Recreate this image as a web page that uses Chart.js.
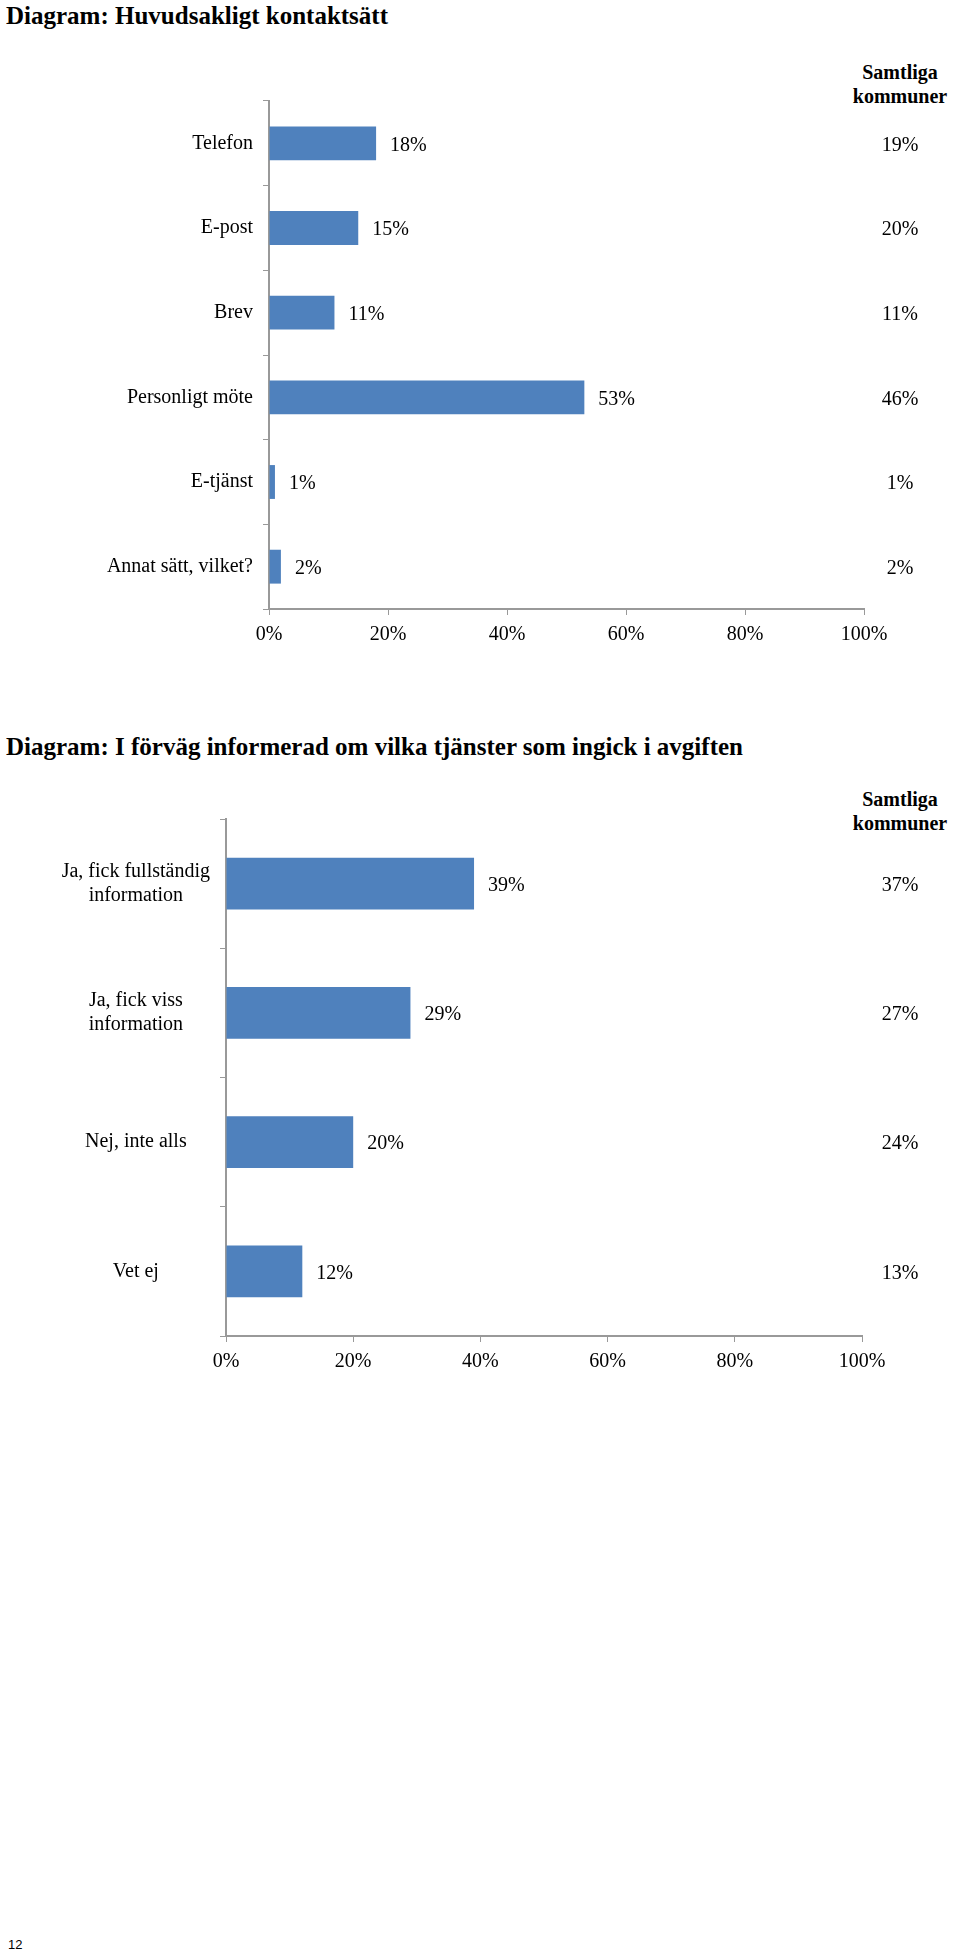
<!DOCTYPE html>
<html lang="sv">
<head>
<meta charset="UTF-8">
<title>Diagram</title>
<script src="https://cdn.jsdelivr.net/npm/chart.js"></script>
<style>
  body { margin:0; width:960px; height:1957px; position:relative; background:#fff; font-family:'Liberation Serif','DejaVu Serif',serif; color:#000; }
  h2 { position:absolute; left:6px; margin:0; font-size:25px; font-weight:bold; }
  .hdr { position:absolute; width:140px; text-align:center; font-weight:bold; font-size:20px; line-height:24px; }
  .wrap { position:absolute; left:0; width:960px; }
  .pg { position:absolute; left:8px; top:1937px; font-family:'Liberation Sans',sans-serif; font-size:13px; }
</style>
</head>
<body>
<h2 style="top:2px">Diagram: Huvudsakligt kontaktsätt</h2>
<div class="hdr" style="left:830px;top:60px">Samtliga<br>kommuner</div>
<div class="wrap" style="top:79px;height:576px"><canvas id="c1"></canvas></div>

<h2 style="top:733px">Diagram: I förväg informerad om vilka tjänster som ingick i avgiften</h2>
<div class="hdr" style="left:830px;top:787px">Samtliga<br>kommuner</div>
<div class="wrap" style="top:797px;height:585px"><canvas id="c2"></canvas></div>

<div class="pg">12</div>

<script>
// Diagram 1
const cats1 = ['Telefon', 'E-post', 'Brev', 'Personligt möte', 'E-tjänst', 'Annat sätt, vilket?'];
const vals1 = [18, 15, 11, 53, 1, 2];
const all1 = [19, 20, 11, 46, 1, 2];

// Diagram 2
const cats2 = [['Ja, fick fullständig', 'information'], ['Ja, fick viss', 'information'], 'Nej, inte alls', 'Vet ej'];
const vals2 = [39, 29, 20, 12];
const all2 = [37, 27, 24, 13];

const xTicks = [0, 20, 40, 60, 80, 100];

const font = { family: "'Liberation Serif', serif", size: 20 };

const labelPlugin = {
  id: 'vals',
  afterDatasetsDraw(chart, args, opts) {
    const ctx = chart.ctx;
    const meta = chart.getDatasetMeta(0);
    ctx.save();
    ctx.font = "20px 'Liberation Serif', serif";
    ctx.fillStyle = '#000';
    ctx.textBaseline = 'middle';
    meta.data.forEach((bar, i) => {
      ctx.textAlign = 'left';
      ctx.fillText(chart.data.datasets[0].data[i] + '%', bar.x + 14, bar.y + 2);
      ctx.textAlign = 'center';
      ctx.fillText(opts.all[i] + '%', 900, bar.y + 2);
    });
    ctx.restore();
  }
};

function makeChart(id, cats, vals, all, axisW, padRight, align) {
  return new Chart(document.getElementById(id), {
    type: 'bar',
    data: { labels: cats, datasets: [{ data: vals, backgroundColor: '#4f81bd', categoryPercentage: 0.8, barPercentage: 0.5 }] },
    options: {
      indexAxis: 'y',
      responsive: true,
      maintainAspectRatio: false,
      animation: false,
      layout: { padding: { right: padRight, top: 0, left: 0 } },
      plugins: { legend: { display: false }, tooltip: { enabled: false }, vals: { all: all } },
      scales: {
        x: {
          min: 0, max: 100,
          afterBuildTicks: s => { s.ticks = xTicks.map(v => ({ value: v })); },
          ticks: { color: '#000', font: font, callback: v => v + '%', padding: 8 },
          grid: { drawOnChartArea: false, tickLength: 6, color: '#999' },
          border: { color: '#999', width: 2 }
        },
        y: {
          afterFit: s => { s.width = axisW; },
          ticks: { color: '#000', font: font, padding: 10, crossAlign: align },
          grid: { drawOnChartArea: false, tickLength: 6, color: '#999', offset: true },
          border: { color: '#999', width: 2 }
        }
      }
    },
    plugins: [labelPlugin]
  });
}

makeChart('c1', cats1, vals1, all1, 269, 96, 'near');
makeChart('c2', cats2, vals2, all2, 226, 98, 'center');
</script>
</body>
</html>
